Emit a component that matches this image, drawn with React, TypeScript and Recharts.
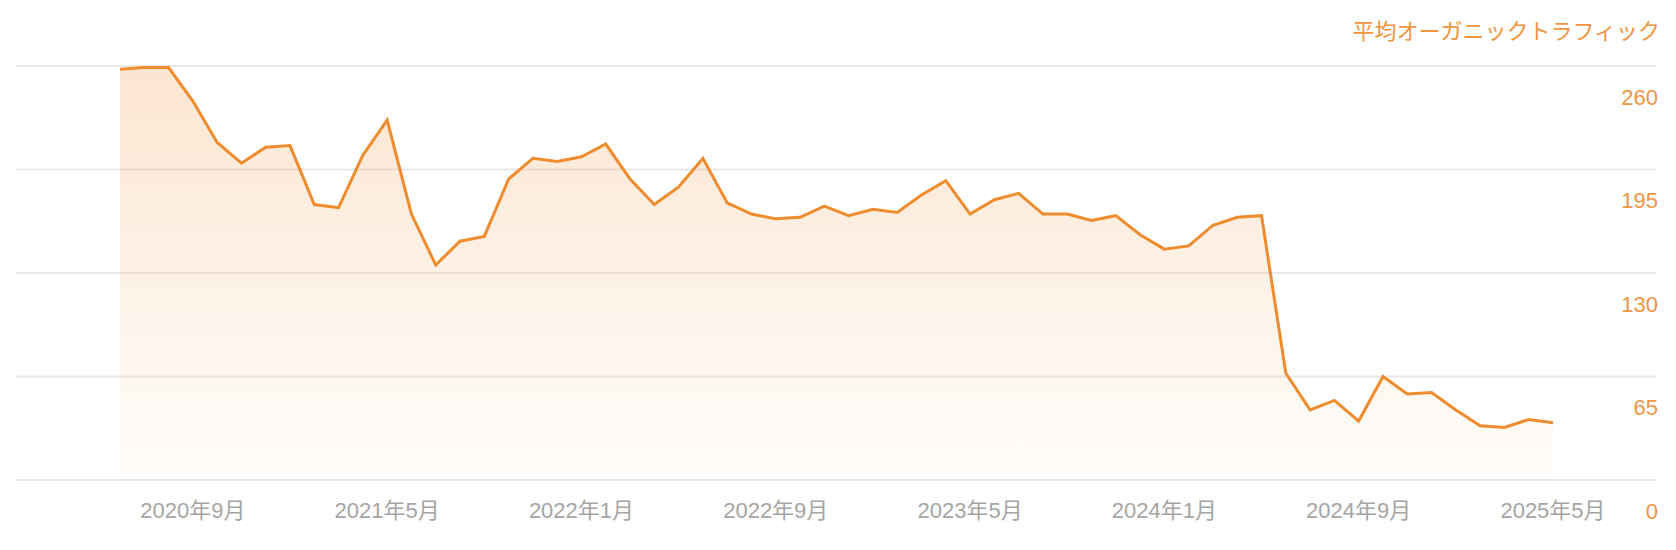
import React from 'react';
import { AreaChart, Area, XAxis, YAxis, CartesianGrid } from 'recharts';

const months = [
  '2020年6月', '2020年7月', '2020年8月', '2020年9月', '2020年10月', '2020年11月', '2020年12月',
  '2021年1月', '2021年2月', '2021年3月', '2021年4月', '2021年5月', '2021年6月', '2021年7月',
  '2021年8月', '2021年9月', '2021年10月', '2021年11月', '2021年12月',
  '2022年1月', '2022年2月', '2022年3月', '2022年4月', '2022年5月', '2022年6月', '2022年7月',
  '2022年8月', '2022年9月', '2022年10月', '2022年11月', '2022年12月',
  '2023年1月', '2023年2月', '2023年3月', '2023年4月', '2023年5月', '2023年6月', '2023年7月',
  '2023年8月', '2023年9月', '2023年10月', '2023年11月', '2023年12月',
  '2024年1月', '2024年2月', '2024年3月', '2024年4月', '2024年5月', '2024年6月', '2024年7月',
  '2024年8月', '2024年9月', '2024年10月', '2024年11月', '2024年12月',
  '2025年1月', '2025年2月', '2025年3月', '2025年4月', '2025年5月',
];

const traffic = [
  258, 259, 259, 238, 212, 199, 209,
  210, 173, 171, 204, 226, 167, 135,
  150, 153, 189, 202, 200,
  203, 211, 189, 173, 184, 202, 174,
  167, 164, 165, 172, 166,
  170, 168, 179, 188, 167, 176, 180,
  167, 167, 163, 166, 154,
  145, 147, 160, 165, 166, 67, 44,
  50, 37, 65, 54, 55,
  44, 34, 33, 38, 36,
];

const xTicks = ['2020年9月', '2021年5月', '2022年1月', '2022年9月', '2023年5月', '2024年1月', '2024年9月', '2025年5月'];
const yTicks = [0, 65, 130, 195, 260];
const seriesName = '平均オーガニックトラフィック';

const data = months.map((m, i) => ({ month: m, value: traffic[i] }));

const ORANGE = '#f08c2e';
const TEXT_ORANGE = '#f29440';
const FONT = "'Liberation Sans', Arial, 'Noto Sans CJK JP', sans-serif";

const YTick = (props: any) => {
  const { x, y, payload } = props;
  return (
    <text x={x + 2} y={y + 31} dy="0.355em" textAnchor="end" fill={TEXT_ORANGE} fontSize={22} fontFamily={FONT}>
      {payload.value}
    </text>
  );
};

export default function App() {
  return (
    <div style={{ position: 'relative', width: 1660, height: 534 }}>
      <div
        style={{
          position: 'absolute',
          right: 8,
          top: 13,
          fontSize: 22,
          lineHeight: '22px',
          color: TEXT_ORANGE,
          fontFamily: FONT,
          whiteSpace: 'nowrap',
        }}
      >
        {seriesName}
      </div>
      <AreaChart
        width={1660}
        height={534}
        data={data}
        margin={{ top: 58, right: 12, bottom: 22, left: 8 }}
      >
        <defs>
          <linearGradient id="areaFill" x1="0" y1="0" x2="0" y2="1">
            <stop offset="0%" stopColor={ORANGE} stopOpacity={0.37} />
            <stop offset="100%" stopColor={ORANGE} stopOpacity={0.03} />
          </linearGradient>
        </defs>
        <CartesianGrid vertical={false} stroke="#e9e9e9" strokeWidth={2} />
        <XAxis
          dataKey="month"
          ticks={xTicks}
          interval={0}
          axisLine={false}
          tickLine={false}
          tickSize={0}
          tickMargin={22}
          height={40}
          padding={{ left: 104, right: 103 }}
          tick={{ fill: '#a5a5a5', fontSize: 22, fontFamily: FONT }}
        />
        <YAxis
          orientation="right"
          mirror
          domain={[0, 260]}
          ticks={yTicks}
          interval={0}
          axisLine={false}
          tickLine={false}
          tickSize={0}
          tickMargin={0}
          tick={YTick}
        />
        <Area
          type="linear"
          dataKey="value"
          stroke={ORANGE}
          strokeWidth={3}
          fill="url(#areaFill)"
          isAnimationActive={false}
          dot={false}
          activeDot={false}
        />
      </AreaChart>
    </div>
  );
}
